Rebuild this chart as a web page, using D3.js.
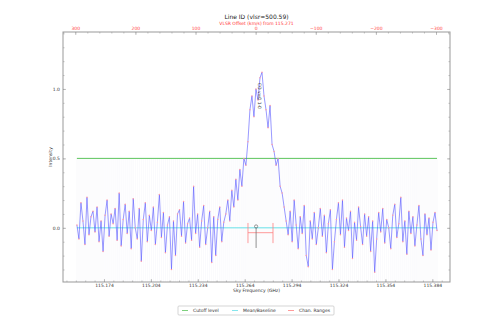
<!DOCTYPE html>
<html>
<head>
<meta charset="utf-8">
<script src="https://cdn.jsdelivr.net/npm/d3@7"></script>
<style>
body { margin: 0; background: #fff; }
text { font-family: "DejaVu Sans", sans-serif; }
</style>
</head>
<body>
<div id="chart"></div>
<script>
var width = 498,
height = 332;

// spectrum (intensity per channel)
var intensity = [
  0.02, -0.08, 0.18, 0.05, -0.12, 0.22, -0.05, 0.08, 0.12, -0.03, 0.15, -0.1, 0.05, -0.17, 0.09, 0.2, -0.06, 0.1, 0.03, 0.14, -0.09, 0.25, -0.13, 0.06, 0.17,
  -0.04, 0.12, -0.15, 0.21, 0.0, -0.08, 0.14, -0.24, 0.06, 0.18, -0.1, 0.09, -0.02, 0.15, -0.12, 0.04, 0.24, -0.07, 0.11, -0.18, 0.02, 0.08, -0.3, 0.05, -0.2, 0.1, 0.13, -0.06, 0.19, -0.11, 0.03,
  0.07, -0.09, 0.3, -0.04, 0.1, -0.14, 0.05, 0.16, -0.12, 0.0, 0.12, -0.25, 0.08, -0.2, 0.06, 0.15, -0.1, 0.04,
  0.1, 0.2, 0.05, 0.27, 0.15, 0.35, 0.2, 0.42, 0.3, 0.5, 0.45, 0.62, 0.85, 0.95, 0.8, 1.0, 0.92, 1.08, 1.12, 0.95, 0.85, 0.72, 0.88, 0.6, 0.55, 0.45, 0.5, 0.3, 0.25, 0.15, 0.05,
  -0.05, 0.12, -0.1, 0.2, 0.02, -0.15, 0.08, -0.04, 0.16, -0.2,
  -0.28, 0.05, -0.08, 0.11, -0.12, 0.0, 0.14, -0.06, 0.09, -0.18,
  0.03, 0.13, -0.3, -0.1, 0.06, 0.18, -0.05, 0.2, -0.14, 0.07,
  -0.02, 0.12, -0.22, 0.04, -0.09, 0.15, 0.01, -0.12, 0.1, -0.06,
  0.08, -0.17, 0.05, -0.32, -0.08, 0.11, -0.03, 0.14, -0.11, 0.06,
  0.0, -0.15, 0.09, 0.17, -0.07, 0.03, 0.22, -0.1, 0.05, -0.19,
  0.12, -0.04, 0.08, -0.13, 0.02, 0.16, -0.08, -0.2, 0.1, -0.05,
  0.07, -0.16, 0.04, 0.11, -0.02
];
// channel frequencies (GHz) span
var freqStart = 115.1567,
freqEnd = 115.387;
var restFreq = 115.271;
var cutoff = 0.5;
var baseline = 0.0;
var chanRange = [115.2661, 115.2821];
var lineFreq = 115.2713;
var lineLabel = "CO v=0 1-0";
var freqTicks = [115.174, 115.204, 115.234, 115.264, 115.294, 115.324, 115.354, 115.384];
var velTicks = [300, 200, 100, 0, -100, -200, -300];
var yTicks = [0.0, 0.5, 1.0];
var legendItems = [
  {name: "Cutoff level", color: "#5cc45c"},
  {name: "Mean/Baseline", color: "#66e0e8"},
  {name: "Chan. Ranges", color: "#ff8080"}
];

var cLight = 299792.458;
var toVel = f => cLight * (restFreq - f) / restFreq;

var m = {left: 63, right: 450, top: 32, bottom: 282};

var svg = d3.select('#chart').append('svg')
.attr('width', width)
.attr('height', height);

var fL = 115.1478, fR = 115.3953;
let scaleX = d3.scaleLinear().domain([fL, fR]).range([m.left, m.right]);
let scaleV = d3.scaleLinear().domain([toVel(fL), toVel(fR)]).range([m.left, m.right]);
let scaleY = d3.scaleLinear().domain([-0.39, 1.41]).range([m.bottom, m.top]);

var df = (freqEnd - freqStart) / (intensity.length - 1);
var data = intensity.map((v, i) => ({f: freqStart + i * df, y: v}));

var g = svg.append('g');

// faint channel markers
g.selectAll(".chan").data(data).enter().append("line")
  .attr("x1", d => scaleX(d.f)).attr("x2", d => scaleX(d.f))
  .attr("y1", scaleY(cutoff)).attr("y2", m.bottom)
  .attr("stroke", "#e2e2f2").attr("stroke-width", 0.5).attr("opacity", 0.35);

// cutoff + baseline
g.append("line").attr("x1", scaleX(freqStart)).attr("x2", scaleX(freqEnd))
  .attr("y1", scaleY(cutoff)).attr("y2", scaleY(cutoff))
  .attr("stroke", legendItems[0].color).attr("stroke-width", 1);
g.append("line").attr("x1", scaleX(freqStart)).attr("x2", scaleX(freqEnd))
  .attr("y1", scaleY(baseline)).attr("y2", scaleY(baseline))
  .attr("stroke", legendItems[1].color).attr("stroke-width", 1);

var lineFunc = d3.line().x(d => scaleX(d.f)).y(d => scaleY(d.y));
g.append("path").attr("d", lineFunc(data))
  .attr("fill", "none").attr("stroke", "#5050ff").attr("stroke-opacity", 0.65).attr("stroke-width", 0.9);
g.selectAll(".pt").data(data).enter().append("circle")
  .attr("cx", d => scaleX(d.f)).attr("cy", d => scaleY(d.y)).attr("r", 0.75)
  .attr("fill", "#ff9aa8");

// channel range marker
var ry = scaleY(-0.035);
g.append("line").attr("x1", scaleX(chanRange[0])).attr("x2", scaleX(chanRange[1]))
  .attr("y1", ry).attr("y2", ry).attr("stroke", "#ff8080").attr("stroke-width", 0.8);
chanRange.forEach(f => {
  g.append("line").attr("x1", scaleX(f)).attr("x2", scaleX(f))
    .attr("y1", scaleY(0.035)).attr("y2", scaleY(-0.11))
    .attr("stroke", "#ff8080").attr("stroke-width", 0.8);
});
g.append("line").attr("x1", scaleX(lineFreq)).attr("x2", scaleX(lineFreq))
  .attr("y1", scaleY(0.0)).attr("y2", scaleY(-0.145))
  .attr("stroke", "#777").attr("stroke-width", 0.8);
g.append("circle").attr("cx", scaleX(lineFreq)).attr("cy", scaleY(0.01)).attr("r", 1.6)
  .attr("fill", "none").attr("stroke", "#555").attr("stroke-width", 0.6);
g.append("text").attr("transform", "translate(" + (scaleX(lineFreq) + 1.5) + "," + scaleY(0.95) + ") rotate(90)")
  .attr("text-anchor", "middle").attr("font-size", 4.5).attr("fill", "#333").text(lineLabel);

// axes
var axColor = "#999";
function styleAxis(sel, labelColor) {
  sel.select(".domain").remove();
  sel.selectAll(".tick line").attr("stroke", axColor).attr("stroke-width", 0.6);
  sel.selectAll("text").attr("font-size", 4.5).attr("fill", labelColor || "#333").attr("font-family", "DejaVu Sans");
}
var minorF = d3.range(115.150, 115.396, 0.006);
var minorV = d3.range(320, -330, -20);
var minorY = d3.range(-0.3, 1.41, 0.1);

var axB = svg.append('g').attr("transform", "translate(0," + m.bottom + ")");
axB.call(d3.axisBottom(scaleX).tickValues(minorF).tickSize(-1.5).tickFormat(""));
styleAxis(axB);
var axB2 = svg.append('g').attr("transform", "translate(0," + m.bottom + ")");
axB2.call(d3.axisBottom(scaleX).tickValues(freqTicks).tickSize(-3).tickPadding(2).tickFormat(d3.format(".3f")));
styleAxis(axB2);

var axT = svg.append('g').attr("transform", "translate(0," + m.top + ")");
axT.call(d3.axisTop(scaleV).tickValues(minorV).tickSize(-1.5).tickFormat(""));
styleAxis(axT);
var axT2 = svg.append('g').attr("transform", "translate(0," + m.top + ")");
axT2.call(d3.axisTop(scaleV).tickValues(velTicks).tickSize(-3).tickPadding(2).tickFormat(d => d < 0 ? "\u2212" + (-d) : d));
styleAxis(axT2, "#ff4444");

var axL = svg.append('g').attr("transform", "translate(" + m.left + ",0)");
axL.call(d3.axisLeft(scaleY).tickValues(minorY).tickSize(-1.5).tickFormat(""));
styleAxis(axL);
var axL2 = svg.append('g').attr("transform", "translate(" + m.left + ",0)");
axL2.call(d3.axisLeft(scaleY).tickValues(yTicks).tickSize(-3).tickPadding(3).tickFormat(d3.format(".1f")));
styleAxis(axL2);

var axR = svg.append('g').attr("transform", "translate(" + m.right + ",0)");
axR.call(d3.axisRight(scaleY).tickValues(minorY).tickSize(-1.5).tickFormat(""));
styleAxis(axR);
var axR2 = svg.append('g').attr("transform", "translate(" + m.right + ",0)");
axR2.call(d3.axisRight(scaleY).tickValues(yTicks).tickSize(-3).tickFormat(""));
styleAxis(axR2);

// frame
svg.append("rect").attr("x", m.left).attr("y", m.top)
  .attr("width", m.right - m.left).attr("height", m.bottom - m.top)
  .attr("fill", "none").attr("stroke", axColor).attr("stroke-width", 1);

// titles
var cx = (m.left + m.right) / 2;
svg.append("text").attr("x", cx).attr("y", 18.5).attr("text-anchor", "middle")
  .attr("font-size", 6).attr("fill", "#222").text("Line ID (vlsr=500.59)");
svg.append("text").attr("x", cx).attr("y", 24.8).attr("text-anchor", "middle")
  .attr("font-size", 4.5).attr("fill", "#ff3333").text("VLSR Offset (km/s) from 115.271");
svg.append("text").attr("x", cx).attr("y", 292).attr("text-anchor", "middle")
  .attr("font-size", 4.5).attr("fill", "#333").text("Sky Frequency (GHz)");
svg.append("text").attr("transform", "translate(52," + ((m.top + m.bottom) / 2) + ") rotate(-90)")
  .attr("text-anchor", "middle").attr("font-size", 4.5).attr("fill", "#333").text("Intensity");

// legend
var legend = svg.append('g').attr("transform", "translate(178,306)");
legend.append("rect").attr("width", 156).attr("height", 9)
  .attr("fill", "#fff").attr("stroke", "#bbb").attr("stroke-width", 0.6).attr("rx", 1);
var lx = [4, 54, 110];
legendItems.forEach((d, i) => {
  legend.append("line").attr("x1", lx[i]).attr("x2", lx[i] + 6).attr("y1", 4.5).attr("y2", 4.5)
    .attr("stroke", d.color).attr("stroke-width", 0.8);
  legend.append("text").attr("x", lx[i] + 11).attr("y", 6.2)
    .attr("font-size", 4.5).attr("fill", "#333").text(d.name);
});
</script>
</body>
</html>
